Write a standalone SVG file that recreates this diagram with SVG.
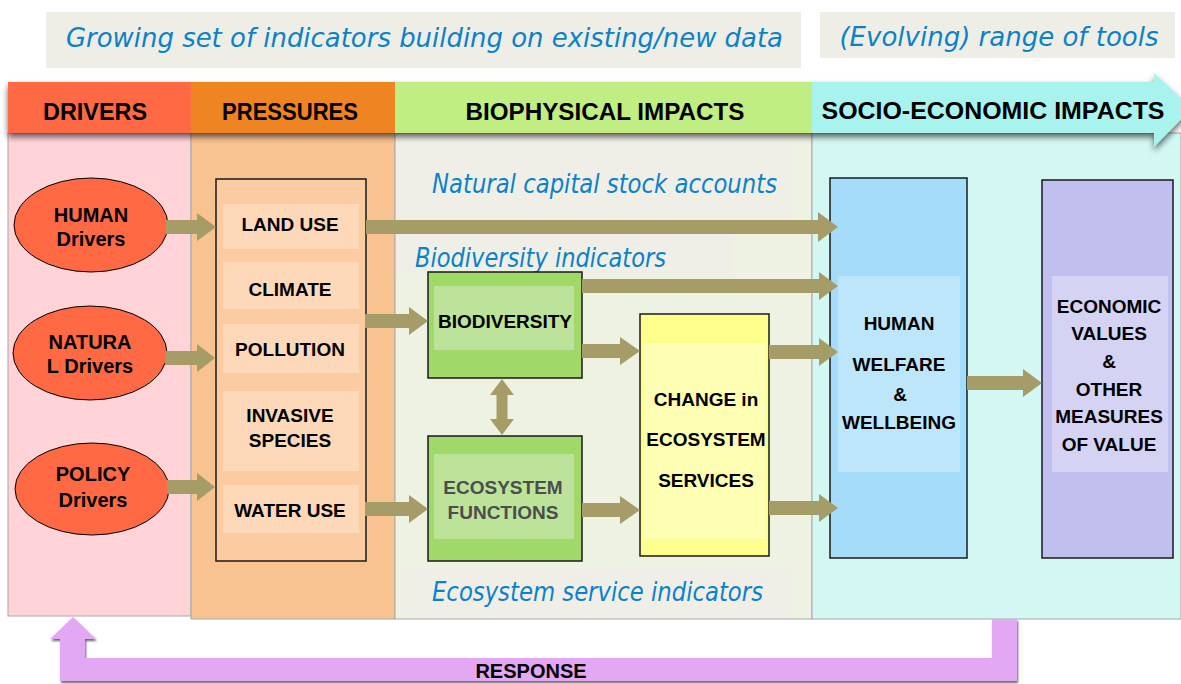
<svg xmlns="http://www.w3.org/2000/svg" width="1181" height="684" viewBox="0 0 1181 684">
<style>
.col{stroke:#a8a8a8;stroke-width:1}
.hdr{font-family:"Liberation Sans",Arial,sans-serif;font-weight:bold;font-size:24px;fill:#000;text-anchor:middle}
.lbl{font-family:"Liberation Sans",Arial,sans-serif;font-weight:bold;font-size:19px;fill:#000;text-anchor:middle}
.drv{font-family:"Liberation Sans",Arial,sans-serif;font-weight:bold;font-size:20px;fill:#000;text-anchor:middle}
.it{font-family:"DejaVu Sans","Liberation Sans",sans-serif;font-style:italic;fill:#0b82c8}
.box{stroke:#1a1a1a;stroke-width:1.5}
.arr{fill:#a59c68}
</style>
<defs>
<filter id="sh" x="-5%" y="-20%" width="110%" height="150%">
<feDropShadow dx="0" dy="4" stdDeviation="3" flood-color="#000" flood-opacity="0.6"/>
</filter>
<filter id="sh2" x="-5%" y="-20%" width="110%" height="150%">
<feDropShadow dx="1" dy="2" stdDeviation="1.2" flood-color="#000" flood-opacity="0.6"/>
</filter>
</defs>
<rect width="1181" height="684" fill="#fff"/>

<!-- banners -->
<g id="banner-indicators">
<rect x="46" y="12" width="755" height="56" fill="#efeee6"/>
<text class="it" x="66" y="47" font-size="27" textLength="717" lengthAdjust="spacingAndGlyphs">Growing set of indicators building on existing/new data</text>
</g>
<g id="banner-tools">
<rect x="820" y="12" width="355" height="46" fill="#efeee6"/>
<text class="it" x="999" y="46" font-size="26" text-anchor="middle">(Evolving) range of tools</text>
</g>

<!-- column bodies -->
<g id="columns">
<rect class="col" x="8" y="133" width="183" height="483" fill="#ffd3d7"/>
<rect class="col" x="191" y="133" width="204" height="486" fill="#f8c291"/>
<rect class="col" x="395" y="133" width="417" height="486" fill="#edf2e3"/>
<rect x="396" y="134" width="396" height="99" fill="#f0efe7"/>
<rect x="397" y="233" width="335" height="40" fill="#f0efe7"/>
<rect x="402" y="568" width="390" height="50" fill="#f0efe7"/>
<rect class="col" x="812" y="133" width="369" height="486" fill="#d3f8f4"/>
</g>

<!-- header band -->
<g id="header" filter="url(#sh)">
<rect x="8" y="82" width="183" height="51" fill="#ff6a45"/>
<rect x="191" y="82" width="204" height="51" fill="#ef8420"/>
<rect x="395" y="82" width="417" height="51" fill="#c0ee82"/>
<path d="M812 82 H1154 V73 L1192 108 L1154 147 V133 H812 Z" fill="#a9f3ee"/>
</g>
<g id="header-text">
<text class="hdr" x="95" y="120" textLength="104" lengthAdjust="spacingAndGlyphs">DRIVERS</text>
<text class="hdr" x="290" y="120" textLength="136" lengthAdjust="spacingAndGlyphs">PRESSURES</text>
<text class="hdr" x="605" y="120" textLength="279" lengthAdjust="spacingAndGlyphs">BIOPHYSICAL IMPACTS</text>
<text class="hdr" x="993" y="119" textLength="343" lengthAdjust="spacingAndGlyphs">SOCIO-ECONOMIC IMPACTS</text>
</g>

<!-- indicator labels -->
<g id="labels">
<text class="it" x="432" y="193" font-size="26" textLength="345" lengthAdjust="spacingAndGlyphs">Natural capital stock accounts</text>
<text class="it" x="415" y="267" font-size="26" textLength="251" lengthAdjust="spacingAndGlyphs">Biodiversity indicators</text>
<text class="it" x="432" y="601" font-size="26" textLength="331" lengthAdjust="spacingAndGlyphs">Ecosystem service indicators</text>
</g>

<!-- drivers -->
<g id="human-drivers">
<ellipse cx="91" cy="225" rx="77" ry="47" fill="#ff6a45" stroke="#000" stroke-width="1"/>
<text class="drv" x="91" y="222">HUMAN</text>
<text class="drv" x="91" y="246">Drivers</text>
</g>
<g id="natural-drivers">
<ellipse cx="90" cy="353" rx="77" ry="47" fill="#ff6a45" stroke="#000" stroke-width="1"/>
<text class="drv" x="90" y="349">NATURA</text>
<text class="drv" x="90" y="373">L Drivers</text>
</g>
<g id="policy-drivers">
<ellipse cx="92" cy="489" rx="77" ry="46" fill="#ff6a45" stroke="#000" stroke-width="1"/>
<text class="drv" x="93" y="481">POLICY</text>
<text class="drv" x="93" y="507">Drivers</text>
</g>

<!-- pressures -->
<g id="pressures">
<rect class="box" x="216" y="179" width="150" height="382" fill="#fbcba1"/>
<g id="land-use"><rect x="223" y="204" width="136" height="45" fill="#fdd9ba"/><text class="lbl" x="290" y="231">LAND USE</text></g>
<g id="climate"><rect x="223" y="262" width="136" height="47" fill="#fdd9ba"/><text class="lbl" x="290" y="296">CLIMATE</text></g>
<g id="pollution"><rect x="223" y="324" width="136" height="49" fill="#fdd9ba"/><text class="lbl" x="290" y="356">POLLUTION</text></g>
<g id="invasive"><rect x="223" y="391" width="136" height="80" fill="#fdd9ba"/><text class="lbl" x="290" y="422">INVASIVE</text><text class="lbl" x="290" y="447">SPECIES</text></g>
<g id="water-use"><rect x="223" y="485" width="136" height="48" fill="#fdd9ba"/><text class="lbl" x="290" y="517">WATER USE</text></g>
</g>

<!-- biophysical -->
<g id="biodiversity">
<rect class="box" x="428" y="272" width="154" height="106" fill="#a0d86a"/>
<rect x="434" y="286" width="140" height="64" fill="#bde39b"/>
<text class="lbl" x="505" y="328">BIODIVERSITY</text>
</g>
<g id="ecosystem-functions">
<rect class="box" x="428" y="436" width="154" height="125" fill="#a0d86a"/>
<rect x="434" y="454" width="140" height="85" fill="#bde39b"/>
<text class="lbl" x="503" y="494" style="fill:#4d4d4d">ECOSYSTEM</text>
<text class="lbl" x="503" y="519" style="fill:#4d4d4d">FUNCTIONS</text>
</g>
<g id="change-es">
<rect class="box" x="640" y="314" width="129" height="242" fill="#ffff8c"/>
<rect x="644" y="343" width="122" height="196" fill="#ffffb3"/>
<text class="lbl" x="706" y="406">CHANGE in</text>
<text class="lbl" x="706" y="446">ECOSYSTEM</text>
<text class="lbl" x="706" y="487">SERVICES</text>
</g>

<!-- socio-economic -->
<g id="human-welfare">
<rect class="box" x="830" y="178" width="137" height="380" fill="#a4dcfa"/>
<rect x="838" y="276" width="122" height="196" fill="#bee6fb"/>
<text class="lbl" x="899" y="330">HUMAN</text>
<text class="lbl" x="899" y="371">WELFARE</text>
<text class="lbl" x="900" y="401">&amp;</text>
<text class="lbl" x="899" y="429">WELLBEING</text>
</g>
<g id="economic-values">
<rect class="box" x="1042" y="180" width="131" height="378" fill="#c0bfed"/>
<rect x="1052" y="276" width="116" height="196" fill="#d4d3f4"/>
<text class="lbl" x="1109" y="313">ECONOMIC</text>
<text class="lbl" x="1109" y="340">VALUES</text>
<text class="lbl" x="1109" y="368">&amp;</text>
<text class="lbl" x="1109" y="396">OTHER</text>
<text class="lbl" x="1109" y="423">MEASURES</text>
<text class="lbl" x="1109" y="451">OF VALUE</text>
</g>

<!-- connectors -->
<g id="connectors" class="arr">
<path d="M166 220 H197 V213 L216 227 L197 241 V234 H166 Z"/>
<path d="M165 351 H197 V344 L215 358 L197 372 V365 H165 Z"/>
<path d="M167 480 H197 V473 L215 487 L197 501 V494 H167 Z"/>
<path d="M366 220 H818 V212 L838 227 L818 242 V234 H366 Z"/>
<path d="M365 314 H409 V307 L428 321 L409 335 V328 H365 Z"/>
<path d="M365 502 H409 V495 L428 509 L409 523 V516 H365 Z"/>
<path d="M582 279 H819 V272 L838 286 L819 300 V293 H582 Z"/>
<path d="M582 344 H620 V337 L640 351 L620 365 V358 H582 Z"/>
<path d="M582 503 H620 V496 L640 510 L620 524 V517 H582 Z"/>
<path d="M769 345 H819 V338 L838 352 L819 366 V359 H769 Z"/>
<path d="M769 501 H819 V494 L838 508 L819 522 V515 H769 Z"/>
<path d="M967 376 H1023 V369 L1042 383 L1023 397 V390 H967 Z"/>
<path d="M502 379 L514 395 H507.5 V419 H514 L502 435 L490 419 H496.5 V395 H490 Z"/>
</g>

<!-- response -->
<g id="response">
<path d="M85 639 H96 L73 617 L50 639 H60 V681 H1017 V619 H992 V658 H85 Z" fill="#e2a8f3" filter="url(#sh2)"/>
<text x="531" y="678" style="font-family:'Liberation Sans',Arial,sans-serif;font-weight:bold;font-size:20px;text-anchor:middle">RESPONSE</text>
</g>
</svg>
